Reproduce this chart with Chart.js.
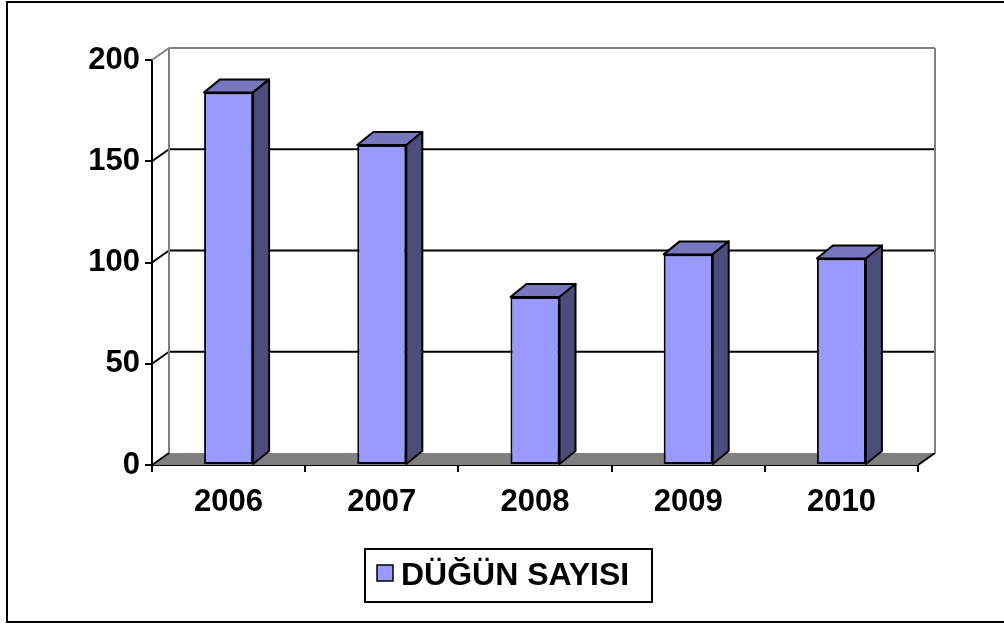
<!DOCTYPE html>
<html>
<head>
<meta charset="utf-8">
<title>Düğün Sayısı</title>
<script src="https://cdn.jsdelivr.net/npm/chart.js@4.4.0/dist/chart.umd.min.js"></script>
<style>
  html, body { margin: 0; padding: 0; background: #fff; }
  #wrap { width: 1004px; height: 625px; }
</style>
</head>
<body>
<div id="wrap"><canvas id="grafik" width="1004" height="625"></canvas></div>
<script>
// Veriler
const yillar = ['2006', '2007', '2008', '2009', '2010'];
const dugunSayisi = [184, 158, 83, 104, 102];
const seriAdi = 'DÜĞÜN SAYISI';
const yEksenMax = 200;
const yEksenAdim = 50;

const FONT = "'Liberation Sans', Arial, sans-serif";
const WALL_DX = 17, WALL_DY = -12; // arka duvar kaydırması
const BAR_DX = 16, BAR_DY = -13;   // çubuk derinliği

function poly(ctx, pts, fill, stroke, lw) {
  ctx.beginPath();
  ctx.moveTo(pts[0][0], pts[0][1]);
  for (let i = 1; i < pts.length; i++) ctx.lineTo(pts[i][0], pts[i][1]);
  ctx.closePath();
  if (fill) { ctx.fillStyle = fill; ctx.fill(); }
  if (stroke) { ctx.strokeStyle = stroke; ctx.lineWidth = lw || 2; ctx.stroke(); }
}

function line(ctx, x1, y1, x2, y2, color, lw) {
  ctx.beginPath();
  ctx.moveTo(x1, y1);
  ctx.lineTo(x2, y2);
  ctx.strokeStyle = color;
  ctx.lineWidth = lw || 2;
  ctx.stroke();
}

// Excel tarzı 3B görünüm
const ucBoyut = {
  id: 'ucBoyut',
  beforeDatasetsDraw(chart) {
    const { ctx, chartArea: a, scales: { y } } = chart;
    ctx.save();
    // taban
    poly(ctx, [[a.left, a.bottom], [a.right, a.bottom], [a.right + WALL_DX, a.bottom + WALL_DY], [a.left + WALL_DX, a.bottom + WALL_DY]], '#808080');
    line(ctx, a.left, a.bottom, a.left + WALL_DX, a.bottom + WALL_DY, '#000', 2);
    line(ctx, a.right, a.bottom, a.right + WALL_DX, a.bottom + WALL_DY, '#000', 2);
    // ızgara çizgileri
    y.ticks.forEach((t) => {
      if (t.value === 0) return;
      const py = y.getPixelForValue(t.value);
      const col = t.value === yEksenMax ? '#808080' : '#000';
      line(ctx, a.left, py, a.left + WALL_DX, py + WALL_DY, col, 2);
      line(ctx, a.left + WALL_DX, py + WALL_DY, a.right + WALL_DX, py + WALL_DY, col, 2);
    });
    // duvar kenarları
    line(ctx, a.left + WALL_DX, a.top + WALL_DY, a.left + WALL_DX, a.bottom + WALL_DY, '#808080', 2);
    line(ctx, a.right + WALL_DX, a.top + WALL_DY, a.right + WALL_DX, a.bottom + WALL_DY, '#808080', 2);
    ctx.restore();
  },
  afterDatasetsDraw(chart) {
    const ctx = chart.ctx;
    ctx.save();
    ctx.lineJoin = 'round';
    chart.getDatasetMeta(0).data.forEach((bar) => {
      const { x, y, base, width } = bar.getProps(['x', 'y', 'base', 'width'], true);
      const l = x - width / 2, r = x + width / 2;
      poly(ctx, [[l, y], [l + BAR_DX, y + BAR_DY], [r + BAR_DX, y + BAR_DY], [r, y]], '#7777C0', '#000', 2);
      poly(ctx, [[r, y], [r + BAR_DX, y + BAR_DY], [r + BAR_DX, base + BAR_DY], [r, base]], '#4D4D7D', '#000', 2);
    });
    ctx.restore();
  },
  afterDraw(chart) {
    const ctx = chart.ctx;
    const ds = chart.data.datasets[0];
    ctx.save();
    // lejant
    ctx.strokeStyle = '#000';
    ctx.lineWidth = 2;
    ctx.strokeRect(365, 549, 287, 53);
    ctx.fillStyle = ds.backgroundColor;
    ctx.fillRect(377, 565, 16, 16);
    ctx.lineWidth = 1.5;
    ctx.strokeRect(377, 565, 16, 16);
    ctx.fillStyle = '#000';
    ctx.font = 'bold 32px ' + FONT;
    ctx.textBaseline = 'middle';
    ctx.fillText(ds.label, 401, 576);
    // dış çerçeve
    ctx.lineWidth = 2;
    ctx.strokeRect(7, 2, 1010, 620);
    ctx.restore();
  }
};

new Chart(document.getElementById('grafik'), {
  type: 'bar',
  data: {
    labels: yillar,
    datasets: [{
      label: seriAdi,
      data: dugunSayisi,
      backgroundColor: '#9999FF',
      borderColor: '#000',
      borderWidth: 2,
      borderSkipped: false,
      categoryPercentage: 1,
      barPercentage: 0.32
    }]
  },
  options: {
    responsive: false,
    animation: false,
    layout: { padding: { left: 10, right: 86, top: 60, bottom: 0 } },
    plugins: { legend: { display: false }, tooltip: { enabled: false } },
    scales: {
      x: {
        grid: { drawOnChartArea: false, offset: true, tickLength: 7, color: '#000', lineWidth: 2 },
        border: { color: '#000', width: 2 },
        ticks: { color: '#000', font: { family: FONT, size: 31, weight: 'bold' }, padding: 12 },
        afterFit: (s) => { s.height = 160; }
      },
      y: {
        min: 0,
        max: yEksenMax,
        ticks: { stepSize: yEksenAdim, color: '#000', font: { family: FONT, size: 31, weight: 'bold' }, padding: 5 },
        grid: { drawOnChartArea: false, tickLength: 7, color: '#000', lineWidth: 2 },
        border: { color: '#000', width: 2 },
        afterFit: (s) => { s.width = 142; }
      }
    }
  },
  plugins: [ucBoyut]
});
</script>
</body>
</html>
